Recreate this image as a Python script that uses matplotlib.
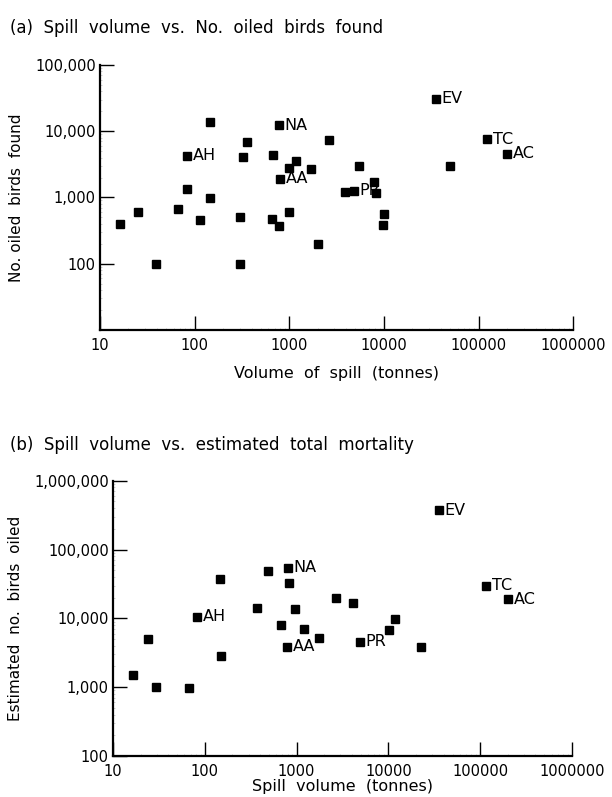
import numpy as np
import matplotlib
matplotlib.use("Agg")
import matplotlib.pyplot as plt
from matplotlib.ticker import FixedLocator, NullFormatter, LogLocator

plt.rcParams['font.family'] = ['DejaVu Sans']

# (a) spill volume (tonnes) vs number of oiled birds found
vol_a = [146, 778, 357, 2645, 84, 324, 677, 1178, 993, 1683, 798, 84, 146, 67,
         25, 16.4, 115, 299, 651, 773, 993, 1995, 39, 299, 35400, 123000, 200000,
         5480, 49400, 3850, 4820, 7900, 8240, 9930, 9840]
birds_a = [13900, 12400, 6950, 7300, 4230, 4080, 4380, 3560, 2820, 2670, 1920,
           1345, 993, 663, 604, 398, 451, 501, 468, 375, 598, 199, 100, 100,
           31000, 7560, 4540, 3020, 2990, 1224, 1253, 1730, 1180, 569, 380]
names_a = {1: "NA", 4: "AH", 10: "AA", 24: "EV", 25: "TC", 26: "AC", 30: "PR"}

# (b) spill volume (tonnes) vs estimated total mortality
vol_b = [16.5, 24.2, 29.6, 67, 82, 147, 151, 367, 492, 800, 832, 681, 968, 1194,
         1741, 786, 2706, 35600, 4080, 11800, 10240, 4940, 22650, 115700, 202000]
birds_b = [1500, 4970, 1000, 970, 10600, 37800, 2870, 14200, 48900, 54600, 33000,
           7940, 13600, 7000, 5140, 3840, 19700, 372600, 16600, 9900, 6860, 4540,
           3840, 29600, 19100]
names_b = {4: "AH", 9: "NA", 15: "AA", 17: "EV", 21: "PR", 23: "TC", 24: "AC"}

x_ticks = [10, 100, 1000, 10000, 100000, 1000000]
x_ticklabels = ["10", "100", "1000", "10000", "100000", "1000000"]


def style_axes(ax, yticks, ylabels):
    ax.set_xscale("log")
    ax.set_yscale("log")
    for s in ["top", "right"]:
        ax.spines[s].set_visible(False)
    for s in ["left", "bottom"]:
        ax.spines[s].set_linewidth(1.6)
    ax.xaxis.set_major_locator(FixedLocator(x_ticks))
    ax.set_xticklabels(x_ticklabels)
    ax.yaxis.set_major_locator(FixedLocator(yticks))
    ax.set_yticklabels(ylabels)
    ax.xaxis.set_minor_locator(LogLocator(subs=np.arange(2, 10)))
    ax.yaxis.set_minor_locator(LogLocator(subs=np.arange(2, 10)))
    ax.xaxis.set_minor_formatter(NullFormatter())
    ax.yaxis.set_minor_formatter(NullFormatter())
    ax.tick_params(which="major", direction="in", length=10, width=1.0,
                   labelsize=10.5)
    ax.tick_params(axis="x", which="major", pad=6)
    ax.tick_params(axis="y", which="major", pad=3)
    ax.tick_params(which="minor", direction="in", length=1.2, width=0.4,
                   color="#aaaaaa")


def plot_points(ax, xs, ys, names):
    ax.plot(xs, ys, "s", color="black", markersize=5.5, linestyle="none",
            clip_on=False)
    for i, lab in names.items():
        ax.annotate(lab, (xs[i], ys[i]), xytext=(4, 0), textcoords="offset points",
                    va="center", ha="left", fontsize=11.5)


fig = plt.figure(figsize=(6.12, 7.97), dpi=100)

ax1 = fig.add_axes([0.1634, 0.5860, 0.7734, 0.3325])
plot_points(ax1, vol_a, birds_a, names_a)
ax1.set_xlim(10, 1000000)
ax1.set_ylim(10, 100000)
style_axes(ax1, [100, 1000, 10000, 100000], ["100", "1,000", "10,000", "100,000"])
ax1.set_xlabel("Volume  of  spill  (tonnes)", fontsize=11.5, labelpad=9)
ax1.set_ylabel("No. oiled  birds  found", fontsize=11, labelpad=8)

ax2 = fig.add_axes([0.1846, 0.0514, 0.7500, 0.3454])
plot_points(ax2, vol_b, birds_b, names_b)
ax2.set_xlim(10, 1000000)
ax2.set_ylim(100, 1000000)
style_axes(ax2, [100, 1000, 10000, 100000, 1000000],
           ["100", "1,000", "10,000", "100,000", "1,000,000"])
ax2.set_xlabel("Spill  volume  (tonnes)", fontsize=11.5, labelpad=0)
ax2.set_ylabel("Estimated  no.  birds  oiled", fontsize=11, labelpad=8)

fig.text(0.016, 0.965, "(a)  Spill  volume  vs.  No.  oiled  birds  found",
         fontsize=12, va="center", ha="left")
fig.text(0.016, 0.4417, "(b)  Spill  volume  vs.  estimated  total  mortality",
         fontsize=12, va="center", ha="left")

fig.savefig("out.png", dpi=100)
